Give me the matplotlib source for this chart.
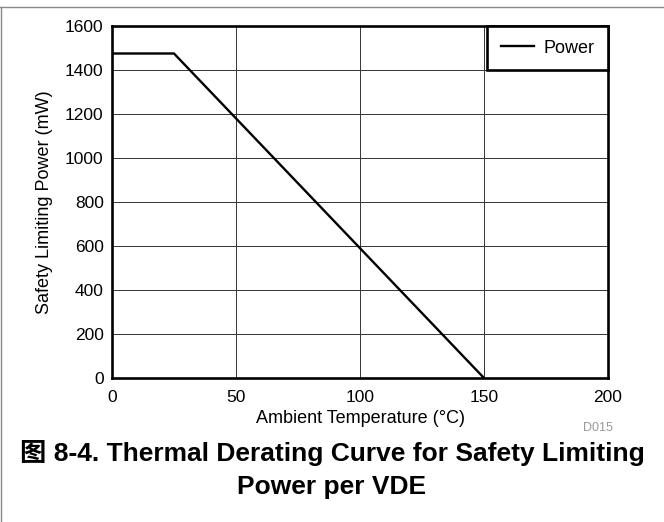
import matplotlib.pyplot as plt
from matplotlib.lines import Line2D

temp = [0, 25, 150]
power = [1475, 1475, 0]
xticks = [0, 50, 100, 150, 200]
yticks = [0, 200, 400, 600, 800, 1000, 1200, 1400, 1600]

plt.rcParams['font.family'] = ['Liberation Sans', 'Noto Sans CJK SC']

fig = plt.figure(figsize=(6.64, 5.22), dpi=100)
ax = fig.add_axes([112/664, 1 - 378/522, 496/664, 352/522])

ax.plot(temp, power, color='black', lw=1.7, label='Power', solid_joinstyle='miter')
ax.set_xlim(0, 200)
ax.set_ylim(0, 1600)
ax.set_xticks(xticks)
ax.set_yticks(yticks)
ax.grid(True, color='#333333', lw=0.7)
ax.tick_params(length=0, labelsize=12.5)
ax.tick_params(axis='x', pad=9)
ax.tick_params(axis='y', pad=6)
for s in ax.spines.values():
    s.set_linewidth(1.9)
ax.set_xlabel('Ambient Temperature (°C)', fontsize=13, labelpad=3)
ax.set_ylabel('Safety Limiting Power (mW)', fontsize=13, labelpad=9)

leg = ax.legend(loc='upper right', fontsize=13, fancybox=False, borderaxespad=0,
                handlelength=1.8, handletextpad=0.55, borderpad=0.75, framealpha=1)
leg.get_frame().set_edgecolor('black')
leg.get_frame().set_linewidth(1.9)

fig.text(598/664, 1 - 428/522, 'D015', color='#999999', fontsize=9, ha='center', va='center')
fig.text(0.5, 1 - 453/522, '图 8-4. Thermal Derating Curve for Safety Limiting',
         fontsize=19, fontweight='bold', ha='center', va='center')
fig.text(0.5, 1 - 487/522, 'Power per VDE',
         fontsize=19, fontweight='bold', ha='center', va='center')

fig.add_artist(Line2D([0, 1], [1 - 7/522, 1 - 7/522], color='#888888', lw=1))
fig.add_artist(Line2D([1/664, 1/664], [0, 1 - 7/522], color='#888888', lw=1))

fig.savefig('out.png', dpi=100)
